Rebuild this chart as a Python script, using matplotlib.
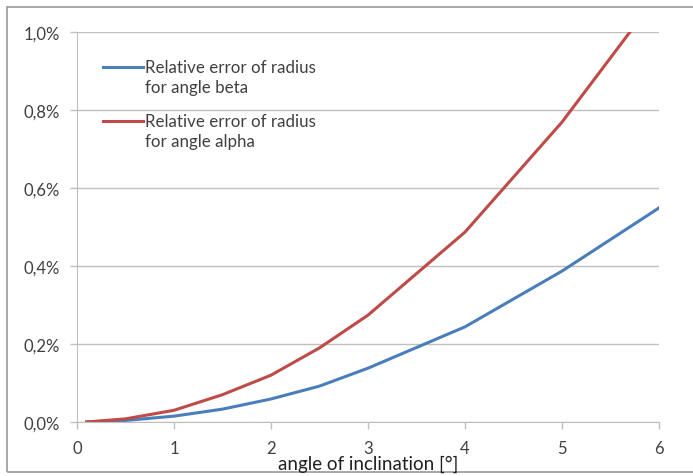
import matplotlib.pyplot as plt
from matplotlib.ticker import FuncFormatter
from matplotlib.patches import Rectangle
from matplotlib.lines import Line2D

# angle of inclination [deg]
angle = [0.1, 0.5, 1, 1.5, 2, 2.5, 3, 4, 5, 6]
# relative error of radius in percent
err_beta = [0.0, 0.004, 0.015, 0.033, 0.059, 0.092, 0.138, 0.244, 0.387, 0.549]
err_alpha = [0.0, 0.008, 0.030, 0.070, 0.120, 0.190, 0.274, 0.487, 0.769, 1.099]

label_beta = ['Relative error of radius', 'for angle beta']
label_alpha = ['Relative error of radius', 'for angle alpha']

blue = '#4a7ebb'
red = '#be4b48'


def main():
    plt.rcParams['font.family'] = ['Lato', 'DejaVu Sans']
    fig = plt.figure(figsize=(6.93, 4.77), dpi=100)
    ax = fig.add_axes([0.111, 0.1132, 0.84, 0.8176])

    # cadre autour du graphique
    fig.patches.append(Rectangle((7 / 693, 4 / 477), 1.0, 465 / 477,
                                 transform=fig.transFigure, fill=False,
                                 edgecolor='#9a9a9a', linewidth=1.2))

    ax.plot(angle, err_beta, color=blue, linewidth=2.2)
    ax.plot(angle, err_alpha, color=red, linewidth=2.2)

    ax.set_xlim(0, 6)
    ax.set_ylim(0, 1.0)
    ax.set_xticks(range(0, 7))
    ax.set_yticks([0, 0.2, 0.4, 0.6, 0.8, 1.0])
    ax.yaxis.set_major_formatter(
        FuncFormatter(lambda v, p: ('%.1f%%' % v).replace('.', ',')))

    ax.grid(axis='y', color='#bfbfbf', linewidth=1)
    ax.set_axisbelow(True)
    for s in ['top', 'right']:
        ax.spines[s].set_visible(False)
    for s in ['left', 'bottom']:
        ax.spines[s].set_color('#bfbfbf')
    ax.tick_params(colors='#bfbfbf', labelcolor='#404040', labelsize=12,
                   length=5, width=1)
    ax.tick_params(axis='y', pad=7)
    ax.tick_params(axis='x', pad=8)

    # titre de l'axe x, place a la main pour coller au cadre
    fig.text(368 / 693, 7 / 477, 'angle of inclination [°]', ha='center',
             va='baseline', fontsize=13.5, color='#202020')

    # legende faite a la main (style Excel)
    for y0, col, lines in [(0.910, blue, label_beta), (0.772, red, label_alpha)]:
        ax.add_line(Line2D([0.045, 0.113], [y0, y0], color=col, linewidth=2.2,
                           transform=ax.transAxes))
        ax.text(0.117, y0, lines[0], transform=ax.transAxes, va='center',
                fontsize=12.2, color='#404040')
        ax.text(0.117, y0 - 0.051, lines[1], transform=ax.transAxes,
                va='center', fontsize=12.2, color='#404040')

    fig.savefig('out.png', dpi=100)


if __name__ == '__main__':
    main()
